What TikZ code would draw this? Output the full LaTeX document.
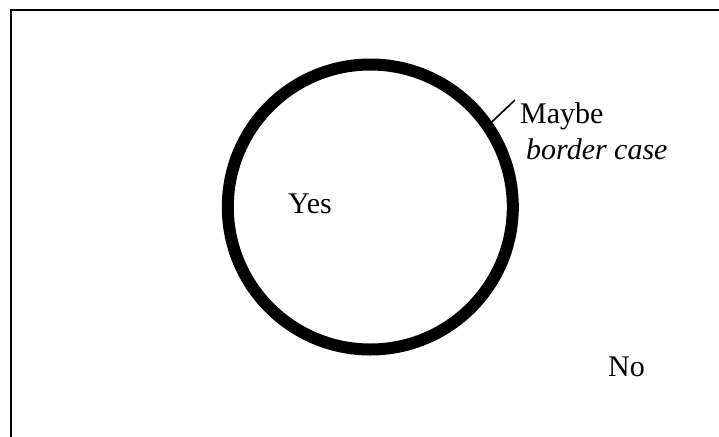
\documentclass[tikz,border=0pt]{standalone}
\usepackage{fontspec}
\setmainfont{Liberation Serif}
\begin{document}
\begin{tikzpicture}[x=1pt,y=-1pt,
  lbl/.style={anchor=base west,inner sep=0pt,font=\fontsize{30}{36}\selectfont}]
\useasboundingbox (0,0) rectangle (719,436);
\draw[line width=2pt] (10.5,445) -- (10.5,10) -- (730,10);
\node[circle,draw,line width=12pt,minimum size=285pt,inner sep=0pt] (c) at (370.3,207) {};
\node[lbl] (yes) at (288,213) {Yes};
\node[lbl] (maybe) at (520,123) {Maybe};
\node[lbl] (bc) at (526,159) {\itshape border case};
\node[lbl] (no) at (608,376) {No};
\coordinate (lt) at (515,100);
\draw[line width=1.6pt] (c.35) -- (lt);
\end{tikzpicture}
\end{document}
